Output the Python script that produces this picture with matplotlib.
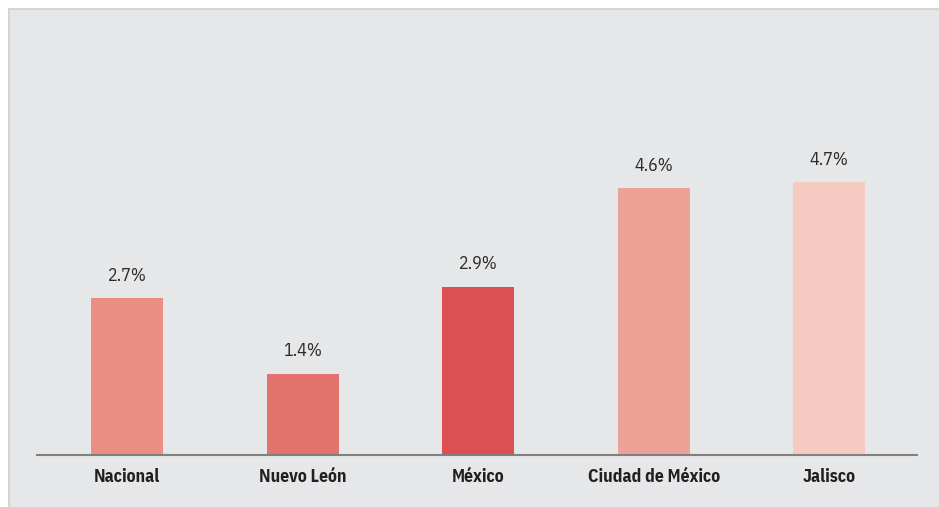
import matplotlib
matplotlib.use("Agg")
import matplotlib.pyplot as plt
from matplotlib.patches import Rectangle

# data
categories = ["Nacional", "Nuevo León", "México", "Ciudad de México", "Jalisco"]
values = [2.7, 1.4, 2.9, 4.6, 4.7]
colors = ["#E98F84", "#E4736C", "#DC5052", "#EDA197", "#F5CBC1"]

plt.rcParams['font.family'] = ['IBM Plex Sans Condensed', 'DejaVu Sans']

W, H = 939, 507
fig = plt.figure(figsize=(W / 100, H / 100), dpi=100)
fig.patch.set_facecolor("white")

# grey panel behind the chart
panel = Rectangle((9 / W, -0.01), 1.0, (H - 9) / H + 0.01, transform=fig.transFigure,
                  facecolor="#E6E7E9", edgecolor="#CFCFD1", linewidth=1.2, zorder=-1)
fig.patches.append(panel)

ax = fig.add_axes([37 / W, (H - 455) / H, (917 - 37) / W, (455 - 30) / H])
ax.set_facecolor("none")

x = range(len(categories))
bars = ax.bar(x, values, width=0.41, color=colors, zorder=2)

for xi, v in zip(x, values):
    ax.annotate(f"{v:.1f}%", (xi, v), xytext=(0, 12.5), textcoords="offset points",
                ha="center", va="baseline", fontsize=13, color="#2B2B2B")

ax.set_xlim(-0.513, 4.50)
ax.set_ylim(0, (455 - 30) / 58)
ax.set_xticks(list(x))
ax.set_xticklabels(categories, fontsize=12.8, fontweight="bold", color="#231F20")
ax.tick_params(axis="x", length=0, pad=9)
ax.set_yticks([])

for side in ["top", "right", "left"]:
    ax.spines[side].set_visible(False)
ax.spines["bottom"].set_color("#808080")
ax.spines["bottom"].set_linewidth(1.5)

fig.savefig("out.png", dpi=100)
